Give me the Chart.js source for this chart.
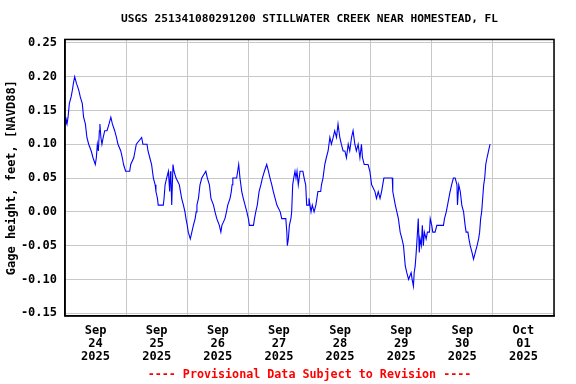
<!DOCTYPE html>
<html lang="en">
<head>
  <meta charset="UTF-8" />
  <title>USGS 251341080291200 Stillwater Creek near Homestead, FL</title>
  <script src="https://cdn.jsdelivr.net/npm/chart.js@4.4.1/dist/chart.umd.min.js"></script>
  <style>
    html,body{margin:0;padding:0;background:#fff;}
    canvas{display:block;}
  </style>
</head>
<body>
  <canvas id="chart" width="576" height="384"></canvas>

  <script>
    // hours since Sep 24 2025 00:00
    const hours = [
      0.0, 0.3, 0.8, 1.2, 1.7, 2.4, 2.9, 3.3, 3.8, 4.5, 5.4, 6.0, 6.8, 7.3, 8.0, 8.6, 9.3, 10.3, 11.0, 11.9,
      12.3, 12.7, 13.1, 13.5, 13.7, 14.1, 14.5, 15.0, 15.6, 16.5, 17.3, 18.0, 18.6, 19.5, 20.2, 20.8, 21.9, 22.5, 23.0, 23.8,
      25.4, 25.8, 27.0, 27.5, 28.0, 30.1, 30.6, 32.2, 32.6, 33.3, 34.0, 34.7, 35.4, 35.7, 36.3, 36.6, 38.6, 38.9, 39.3, 39.9,
      40.6, 41.1, 41.4, 41.6, 41.9, 42.4, 42.8, 43.6, 44.9, 45.8, 46.5, 47.1, 47.5, 48.0, 48.4, 49.2, 49.8, 50.4, 51.1, 51.5,
      51.8, 52.4, 53.0, 53.7, 55.3, 55.9, 56.7, 57.3, 58.3, 58.9, 59.6, 60.6, 61.2, 61.6, 62.8, 63.4, 63.9, 64.8, 65.3, 65.6,
      65.9, 67.4, 67.8, 68.2, 68.7, 69.4, 70.0, 70.7, 71.4, 72.0, 72.4, 74.0, 74.4, 74.9, 75.5, 76.2, 76.9, 77.5, 78.3, 79.2,
      79.9, 80.5, 81.2, 81.8, 82.5, 83.2, 84.5, 85.1, 86.7, 87.1, 87.3, 87.7, 88.1, 88.7, 89.0, 89.4, 89.8, 90.3, 90.7, 91.1,
      91.6, 92.3, 93.4, 93.9, 94.5, 94.9, 95.6, 95.8, 96.6, 97.1, 97.8, 98.5, 99.3, 100.4, 100.7, 101.3, 102.0, 102.6, 103.3, 104.0,
      104.6, 105.3, 105.9, 106.6, 107.2, 107.9, 108.5, 109.2, 109.9, 110.5, 111.2, 111.8, 112.5, 113.1, 113.8, 114.4, 115.1, 115.8, 116.4, 116.8,
      117.5, 119.0, 119.7, 120.4, 121.7, 122.3, 123.0, 123.7, 124.3, 125.2, 128.5, 128.7, 129.2, 129.7, 130.3, 130.9, 131.6, 132.3, 132.9, 133.6,
      134.2, 134.9, 135.9, 136.3, 136.8, 137.1, 137.5, 137.9, 138.4, 138.7, 139.1, 139.4, 139.9, 140.3, 140.7, 141.1, 141.8, 142.3, 143.1, 143.4,
      144.0, 144.4, 145.3, 146.0, 148.6, 149.0, 149.7, 150.2, 150.7, 151.2, 151.8, 152.5, 153.2, 153.9, 154.1, 154.6, 155.2, 155.8, 156.5, 157.1,
      157.5, 158.2, 158.6, 159.1, 159.8, 160.4, 161.1, 161.8, 162.4, 162.8, 163.2, 163.6, 164.0, 164.4, 164.8, 165.2, 165.7, 166.3, 166.9
    ];
    // gage height, feet
    const gageFt = [
      0.13, 0.14, 0.13, 0.14, 0.16, 0.17, 0.18, 0.19, 0.20, 0.19, 0.18, 0.17, 0.16, 0.14, 0.13, 0.11, 0.10, 0.09, 0.08, 0.07,
      0.08, 0.10, 0.09, 0.12, 0.13, 0.11, 0.10, 0.11, 0.12, 0.12, 0.13, 0.14, 0.13, 0.12, 0.11, 0.10, 0.09, 0.08, 0.07, 0.06,
      0.06, 0.07, 0.08, 0.09, 0.10, 0.11, 0.10, 0.10, 0.09, 0.08, 0.07, 0.05, 0.04, 0.03, 0.02, 0.01, 0.01, 0.02, 0.04, 0.05,
      0.06, 0.03, 0.06, 0.05, 0.01, 0.07, 0.06, 0.05, 0.04, 0.02, 0.01, 0.00, -0.01, -0.02, -0.03, -0.04, -0.03, -0.02, -0.01, 0.00,
      0.01, 0.02, 0.04, 0.05, 0.06, 0.05, 0.04, 0.02, 0.01, 0.00, -0.01, -0.02, -0.03, -0.02, -0.01, 0.00, 0.01, 0.02, 0.03, 0.04,
      0.05, 0.05, 0.06, 0.07, 0.05, 0.03, 0.02, 0.01, 0.00, -0.01, -0.02, -0.02, -0.01, 0.00, 0.01, 0.03, 0.04, 0.05, 0.06, 0.07,
      0.06, 0.05, 0.04, 0.03, 0.02, 0.01, 0.00, -0.01, -0.01, -0.03, -0.05, -0.04, -0.02, -0.01, 0.00, 0.04, 0.05, 0.06, 0.05, 0.06,
      0.04, 0.06, 0.06, 0.05, 0.04, 0.01, 0.01, 0.02, 0.00, 0.01, 0.00, 0.01, 0.03, 0.03, 0.04, 0.05, 0.07, 0.08, 0.09, 0.11,
      0.10, 0.11, 0.12, 0.11, 0.13, 0.11, 0.10, 0.09, 0.09, 0.08, 0.10, 0.09, 0.11, 0.12, 0.10, 0.09, 0.10, 0.08, 0.10, 0.08,
      0.07, 0.07, 0.06, 0.04, 0.03, 0.02, 0.03, 0.02, 0.03, 0.05, 0.05, 0.03, 0.02, 0.01, 0.00, -0.01, -0.03, -0.04, -0.05, -0.08,
      -0.09, -0.10, -0.09, -0.10, -0.11, -0.09, -0.08, -0.06, -0.03, -0.01, -0.06, -0.04, -0.05, -0.02, -0.05, -0.03, -0.04, -0.03, -0.03, -0.01,
      -0.02, -0.03, -0.03, -0.02, -0.02, -0.01, 0.00, 0.01, 0.02, 0.03, 0.04, 0.05, 0.05, 0.04, 0.01, 0.04, 0.03, 0.01, 0.00, -0.02,
      -0.03, -0.03, -0.04, -0.05, -0.06, -0.07, -0.06, -0.05, -0.04, -0.03, -0.01, 0.00, 0.02, 0.04, 0.05, 0.07, 0.08, 0.09, 0.10
    ];

    const yTicks = [-0.15, -0.10, -0.05, 0.00, 0.05, 0.10, 0.15, 0.20, 0.25];
    const xTickHours = [0, 12, 24, 36, 48, 60, 72, 84, 96, 108, 120, 132, 144, 156, 168, 180, 192];
    const dayLabels = [
      ['Sep', '24', '2025'], ['Sep', '25', '2025'], ['Sep', '26', '2025'], ['Sep', '27', '2025'],
      ['Sep', '28', '2025'], ['Sep', '29', '2025'], ['Sep', '30', '2025'], ['Oct', '01', '2025']
    ];

    const TITLE = 'USGS 251341080291200 STILLWATER CREEK NEAR HOMESTEAD, FL';
    const Y_TITLE = 'Gage height, feet, [NAVD88]';
    const NOTE = '---- Provisional Data Subject to Revision ----';
    const MONO = "'DejaVu Sans Mono', 'Liberation Mono', monospace";
    const GRID = '#c8c8c8';

    const points = hours.map((h, i) => ({x: h, y: gageFt[i]}));

    // black box round the plot area
    const frame = {
      id: 'frame',
      afterDatasetsDraw(chart){
        const {ctx, chartArea: a} = chart;
        ctx.save();
        ctx.strokeStyle = '#000';
        ctx.lineWidth = 1.5;
        ctx.strokeRect(a.left, a.top, a.right - a.left, a.bottom - a.top);
        ctx.restore();
      }
    };

    new Chart(document.getElementById('chart').getContext('2d'), {
      type: 'line',
      data: {
        datasets: [{
          data: points,
          borderColor: '#0000ff',
          borderWidth: 1.1,
          pointRadius: 0,
          tension: 0,
          fill: false
        }]
      },
      options: {
        responsive: false,
        animation: false,
        layout: {padding: {left: 0, right: 22, top: 0, bottom: 0}},
        plugins: {
          legend: {display: false},
          tooltip: {enabled: false},
          title: {
            display: true, fullSize: false, text: TITLE, color: '#000',
            font: {family: MONO, size: 11.2, weight: 'bold'},
            padding: {top: 12, bottom: 14}
          },
          subtitle: {
            display: true, fullSize: false, position: 'bottom', text: NOTE, color: '#ff0000',
            font: {family: MONO, size: 11.7, weight: 'bold'},
            padding: {top: 0, bottom: 2}
          }
        },
        scales: {
          x: {
            type: 'linear', min: 0, max: 192,
            afterBuildTicks: s => { s.ticks = xTickHours.map(v => ({value: v})); },
            afterFit: s => { s.height = 52; },
            ticks: {
              autoSkip: false, maxRotation: 0, padding: 8, color: '#000',
              font: {family: MONO, size: 12, weight: 'bold', lineHeight: 1.1},
              callback: v => v % 24 === 12 ? dayLabels[(v - 12) / 24] : ''
            },
            grid: {
              color: c => (c.tick && c.tick.value % 24 === 0) ? GRID : 'rgba(0,0,0,0)',
              drawTicks: false
            },
            border: {color: '#000', width: 1.5}
          },
          y: {
            min: -0.154, max: 0.255,
            afterBuildTicks: s => { s.ticks = yTicks.map(v => ({value: v})); },
            afterFit: s => { s.width = 65; },
            ticks: {
              padding: 8, color: '#000',
              font: {family: MONO, size: 12, weight: 'bold'},
              callback: v => v.toFixed(2)
            },
            grid: {color: GRID, drawTicks: false},
            border: {color: '#000', width: 1.5},
            title: {
              display: true, text: Y_TITLE, color: '#000',
              font: {family: MONO, size: 12, weight: 'bold'},
              padding: {top: 5, bottom: 0}
            }
          }
        }
      },
      plugins: [frame]
    });
  </script>
</body>
</html>
